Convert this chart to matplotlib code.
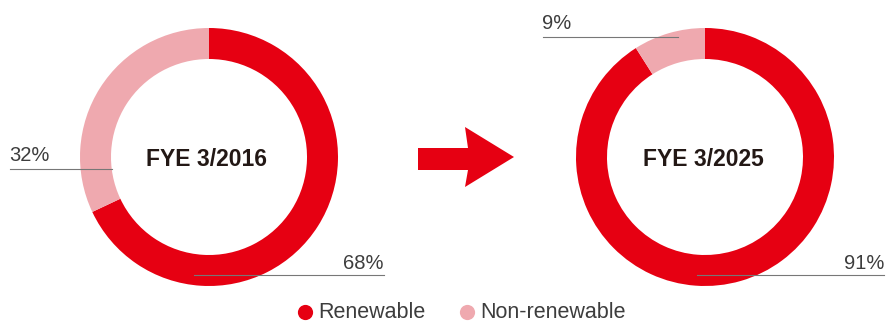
import matplotlib
matplotlib.use("Agg")
import matplotlib.pyplot as plt
from matplotlib.patches import Polygon

years = ["FYE 3/2016", "FYE 3/2025"]
categories = ["Renewable", "Non-renewable"]
renewable = [68, 91]
non_renewable = [32, 9]

RED = "#E60012"
PINK = "#EFA9AF"
TXT = "#231815"

W, H = 889, 324
fig = plt.figure(figsize=(W / 100, H / 100), dpi=100)
ax = fig.add_axes([0, 0, 1, 1])

centers = [(209, H - 157), (705, H - 157)]
R = 129
width = 31

for i, (cx, cy) in enumerate(centers):
    ax.pie([renewable[i], non_renewable[i]], colors=[RED, PINK], startangle=90,
           counterclock=False, center=(cx, cy), radius=R, frame=True,
           wedgeprops=dict(width=width, linewidth=0))
    ax.text(cx-2, H - 159, years[i], ha="center", va="center", fontsize=16.5,
            fontweight="bold", color=TXT, family="Liberation Sans")

LINE = "#777777"
lab_kw = dict(fontsize=14.5, color="#3d3d3d", family="Liberation Sans")

# left donut leaders
ax.plot([10, 112], [H - 169, H - 169], color=LINE, lw=0.8)
ax.text(9, H - 161, f"{non_renewable[0]}%", ha="left", va="baseline", **lab_kw)
ax.plot([194, 384], [H - 275, H - 275], color=LINE, lw=0.8)
ax.text(384, H - 269, f"{renewable[0]}%", ha="right", va="baseline", **lab_kw)

# right donut leaders
ax.plot([543, 678], [H - 37, H - 37], color=LINE, lw=0.8)
ax.text(542, H - 29, f"{non_renewable[1]}%", ha="left", va="baseline", **lab_kw)
ax.plot([697, 884], [H - 275, H - 275], color=LINE, lw=0.8)
ax.text(884, H - 269, f"{renewable[1]}%", ha="right", va="baseline", **lab_kw)

# arrow
arrow = Polygon([(418, H - 148), (468, H - 148), (465, H - 127), (514, H - 157),
                 (465, H - 187), (468, H - 170), (418, H - 170)],
                closed=True, facecolor=RED, edgecolor="none")
ax.add_patch(arrow)

# legend
leg_kw = dict(fontsize=15.5, color="#3d3d3d", family="Liberation Sans")
ax.scatter([305], [H - 312], s=120, color=RED, linewidths=0)
ax.text(318, H - 312, categories[0], ha="left", va="center", **leg_kw)
ax.scatter([467], [H - 312], s=120, color=PINK, linewidths=0)
ax.text(480, H - 312, categories[1], ha="left", va="center", **leg_kw)

ax.set_xlim(0, W)
ax.set_ylim(0, H)
ax.set_aspect("equal")
ax.axis("off")
fig.savefig("out.png", dpi=100)
